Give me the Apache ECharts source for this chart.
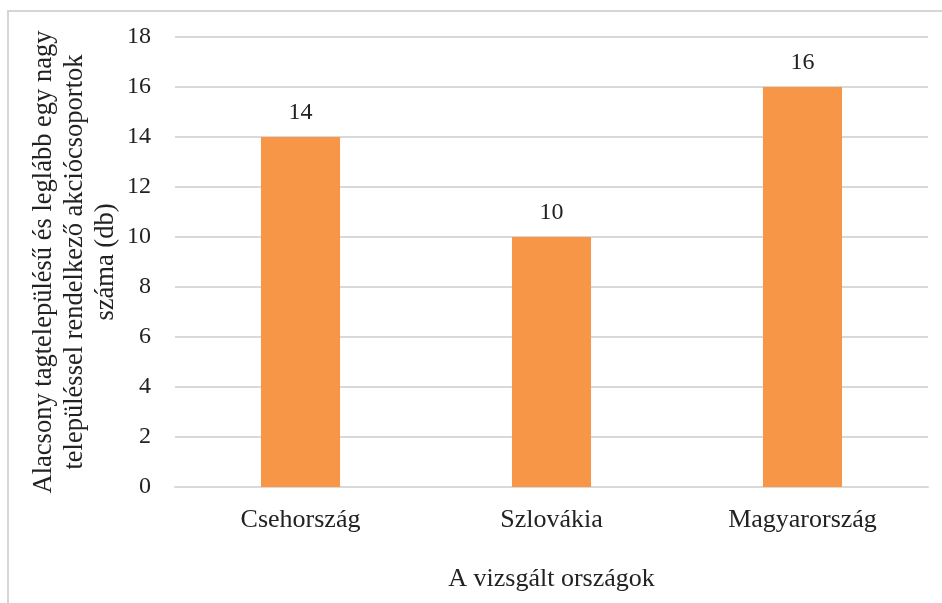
<!DOCTYPE html>
<html>
<head>
<meta charset="utf-8">
<script src="https://cdn.jsdelivr.net/npm/echarts@6/dist/echarts.min.js"></script>
<style>html,body{margin:0;padding:0;background:#fff}#c{width:942px;height:603px}</style>
</head>
<body>
<div id="c"></div>
<script>
const categories = ['Csehország', 'Szlovákia', 'Magyarország'];
const values = [14, 10, 16];
const yTitle = 'Alacsony tagtelepülésű és leglább egy nagy\ntelepüléssel rendelkező akciócsoportok\nszáma (db)';
const xTitle = 'A vizsgált országok';

const font = '"Liberation Serif", "Times New Roman", serif';
const txt = '#222';
const chart = echarts.init(document.getElementById('c'));
chart.setOption({
  animation: false,
  graphic: [{
    type: 'rect', shape: { x: 8, y: 11, width: 1000, height: 700 },
    style: { fill: 'none', stroke: '#d6d6d6', lineWidth: 2 }, silent: true, z: -1
  }],
  grid: { left: 175, right: 14, top: 37, bottom: 116 },
  xAxis: {
    type: 'category', data: categories,
    axisLine: { show: true, lineStyle: { color: '#d9d9d9', width: 2 } },
    axisTick: { show: false },
    axisLabel: { color: txt, fontFamily: font, fontSize: 26, margin: 20 },
    name: xTitle, nameLocation: 'middle', nameGap: 79, nameMoveOverlap: false,
    nameTextStyle: { color: txt, fontFamily: font, fontSize: 26 }
  },
  yAxis: {
    type: 'value', min: 0, max: 18, interval: 2,
    axisLine: { show: false }, axisTick: { show: false },
    splitLine: { lineStyle: { color: '#d9d9d9', width: 2 } },
    axisLabel: { color: txt, fontFamily: font, fontSize: 24, margin: 24 },
    name: yTitle, nameLocation: 'middle', nameRotate: 90, nameGap: 53, nameMoveOverlap: false,
    nameTextStyle: { color: txt, fontFamily: font, fontSize: 26.5, lineHeight: 31, align: 'center' }
  },
  series: [{
    type: 'bar', data: values, barWidth: '31.5%',
    itemStyle: { color: '#F79646' },
    label: { show: true, position: 'top', distance: 12, color: txt, fontFamily: font, fontSize: 24 }
  }]
});
</script>
</body>
</html>
